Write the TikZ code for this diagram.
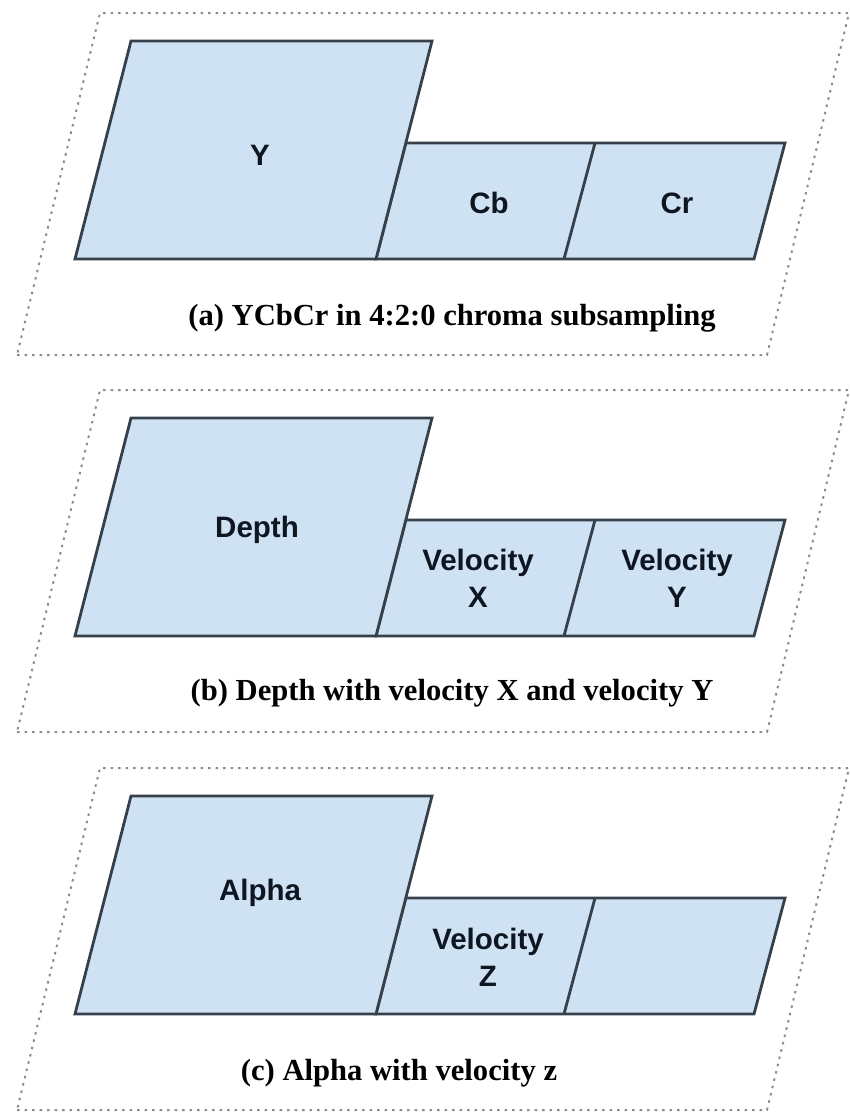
\documentclass[tikz,border=0pt]{standalone}
\usepackage{fontspec}
\setmainfont{Liberation Serif}
\newfontfamily\blockfont{Liberation Sans}
\definecolor{blockfill}{HTML}{CFE2F3}
\definecolor{blockline}{HTML}{36404A}
\definecolor{frameline}{HTML}{8C8C8C}
\definecolor{labeltext}{HTML}{0E1621}
\begin{document}
\begin{tikzpicture}[x=1pt,y=-1pt,
  frame/.style={draw=frameline, line width=2pt, dash pattern=on 2.5pt off 5pt},
  block/.style={fill=blockfill, draw=blockline, line width=2.8pt, line join=miter},
  divider/.style={draw=blockline, line width=2.8pt},
  blocklabel/.style={font=\blockfont\bfseries\fontsize{29.5}{37}\selectfont, text=labeltext, align=center, inner sep=0pt},
  caption/.style={font=\bfseries\fontsize{30.6}{36}\selectfont, inner sep=0pt, anchor=base}]
\useasboundingbox (0,0) rectangle (849,1114);

% shared outline of one panel: dotted frame, large block, strip of two small blocks
\def\panelshapes{%
  \draw[frame] (17,355) -- (767,355) -- (849,13) -- (100,13) -- cycle;
  \filldraw[block] (376,259) -- (754,259) -- (785,143) -- (405.8,143) -- cycle;
  \draw[divider] (564,259) -- (595,143);
  \filldraw[block] (75,259) -- (376,259) -- (432,41) -- (131,41) -- cycle;
}

% (a) YCbCr
\begin{scope}
  \panelshapes
  \node[blocklabel, anchor=base] (a-y) at (260,165) {Y};
  \node[blocklabel, anchor=base] (a-cb) at (489,213) {Cb};
  \node[blocklabel, anchor=base] (a-cr) at (677,213) {Cr};
  \node[caption] (a-cap) at (452,325) {(a) YCbCr in 4:2:0 chroma subsampling};
\end{scope}

% (b) depth and velocity X/Y
\begin{scope}[yshift=-377pt]
  \panelshapes
  \node[blocklabel, anchor=base] (b-depth) at (257,160) {Depth};
  \node[blocklabel] (b-vx) at (478,201) {Velocity\\X};
  \node[blocklabel] (b-vy) at (677,201) {Velocity\\Y};
  \node[caption] (b-cap) at (452,323) {(b) Depth with velocity X and velocity Y};
\end{scope}

% (c) alpha and velocity Z
\begin{scope}[yshift=-755pt]
  \panelshapes
  \node[blocklabel, anchor=base] (c-alpha) at (260,145) {Alpha};
  \node[blocklabel] (c-vz) at (488,202) {Velocity\\Z};
  \node[caption] (c-cap) at (399,325) {(c) Alpha with velocity z};
\end{scope}
\end{tikzpicture}
\end{document}
